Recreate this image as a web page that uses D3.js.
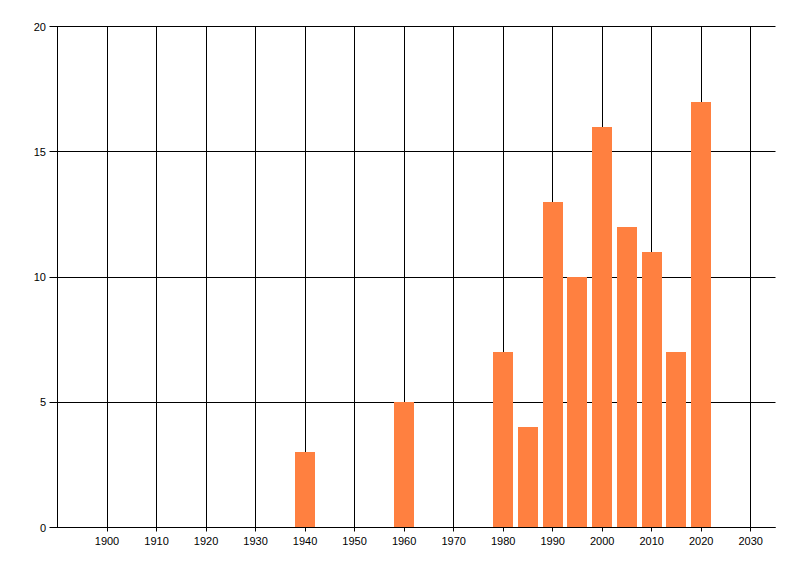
<!DOCTYPE html>
<html><head><meta charset="utf-8">
<script src="https://cdn.jsdelivr.net/npm/d3@7"></script>
<style>html,body{margin:0;padding:0;background:#fff;}svg{display:block;}</style>
</head><body>
<svg id="chart" width="800" height="576"></svg>
<script>
const years = [1940, 1960, 1980, 1985, 1990, 1995, 2000, 2005, 2010, 2015, 2020];
const counts = [3, 5, 7, 4, 13, 10, 16, 12, 11, 7, 17];
const xTicks = [1900, 1910, 1920, 1930, 1940, 1950, 1960, 1970, 1980, 1990, 2000, 2010, 2020, 2030];
const yTicks = [0, 5, 10, 15, 20];

const svg = d3.select("#chart");
const x = d3.scaleLinear().domain([1890, 2035]).range([57.5, 775.5]);
const y = d3.scaleLinear().domain([0, 20]).range([527.5, 26.5]);
const font = "'Liberation Sans', Arial, sans-serif";

// grid lines
svg.append("g").selectAll("line.v").data(xTicks).join("line")
  .attr("x1", d => Math.round(x(d) - 0.5) + 0.5).attr("x2", d => Math.round(x(d) - 0.5) + 0.5)
  .attr("y1", y(20)).attr("y2", y(0) + 4)
  .attr("stroke", "#000").attr("stroke-width", 1);
svg.append("g").selectAll("line.h").data(yTicks).join("line")
  .attr("x1", x(1890) - 8).attr("x2", x(2035))
  .attr("y1", d => Math.round(y(d) - 0.5) + 0.5).attr("y2", d => Math.round(y(d) - 0.5) + 0.5)
  .attr("stroke", "#000").attr("stroke-width", 1);

// bars
const bw = 20;
svg.append("g").selectAll("rect").data(years).join("rect")
  .attr("x", d => Math.round(x(d) - bw / 2))
  .attr("width", bw)
  .attr("y", (d, i) => Math.round(y(counts[i])))
  .attr("height", (d, i) => Math.round(y(0)) - Math.round(y(counts[i])))
  .attr("fill", "#FF8040");

// axes lines
svg.append("line").attr("x1", 57.5).attr("x2", 57.5).attr("y1", y(20)).attr("y2", y(0))
  .attr("stroke", "#000");
svg.append("line").attr("x1", 57.5).attr("x2", x(2035)).attr("y1", y(0)).attr("y2", y(0))
  .attr("stroke", "#000");

// labels
svg.append("g").selectAll("text").data(yTicks).join("text")
  .attr("x", 46).attr("y", d => y(d) + 4)
  .attr("text-anchor", "end").attr("font-family", font).attr("font-size", 11)
  .attr("fill", "#000").text(d => d);
svg.append("g").selectAll("text").data(xTicks).join("text")
  .attr("x", d => x(d)).attr("y", 545)
  .attr("text-anchor", "middle").attr("font-family", font).attr("font-size", 11)
  .attr("fill", "#000").text(d => d);
</script>
</body></html>
